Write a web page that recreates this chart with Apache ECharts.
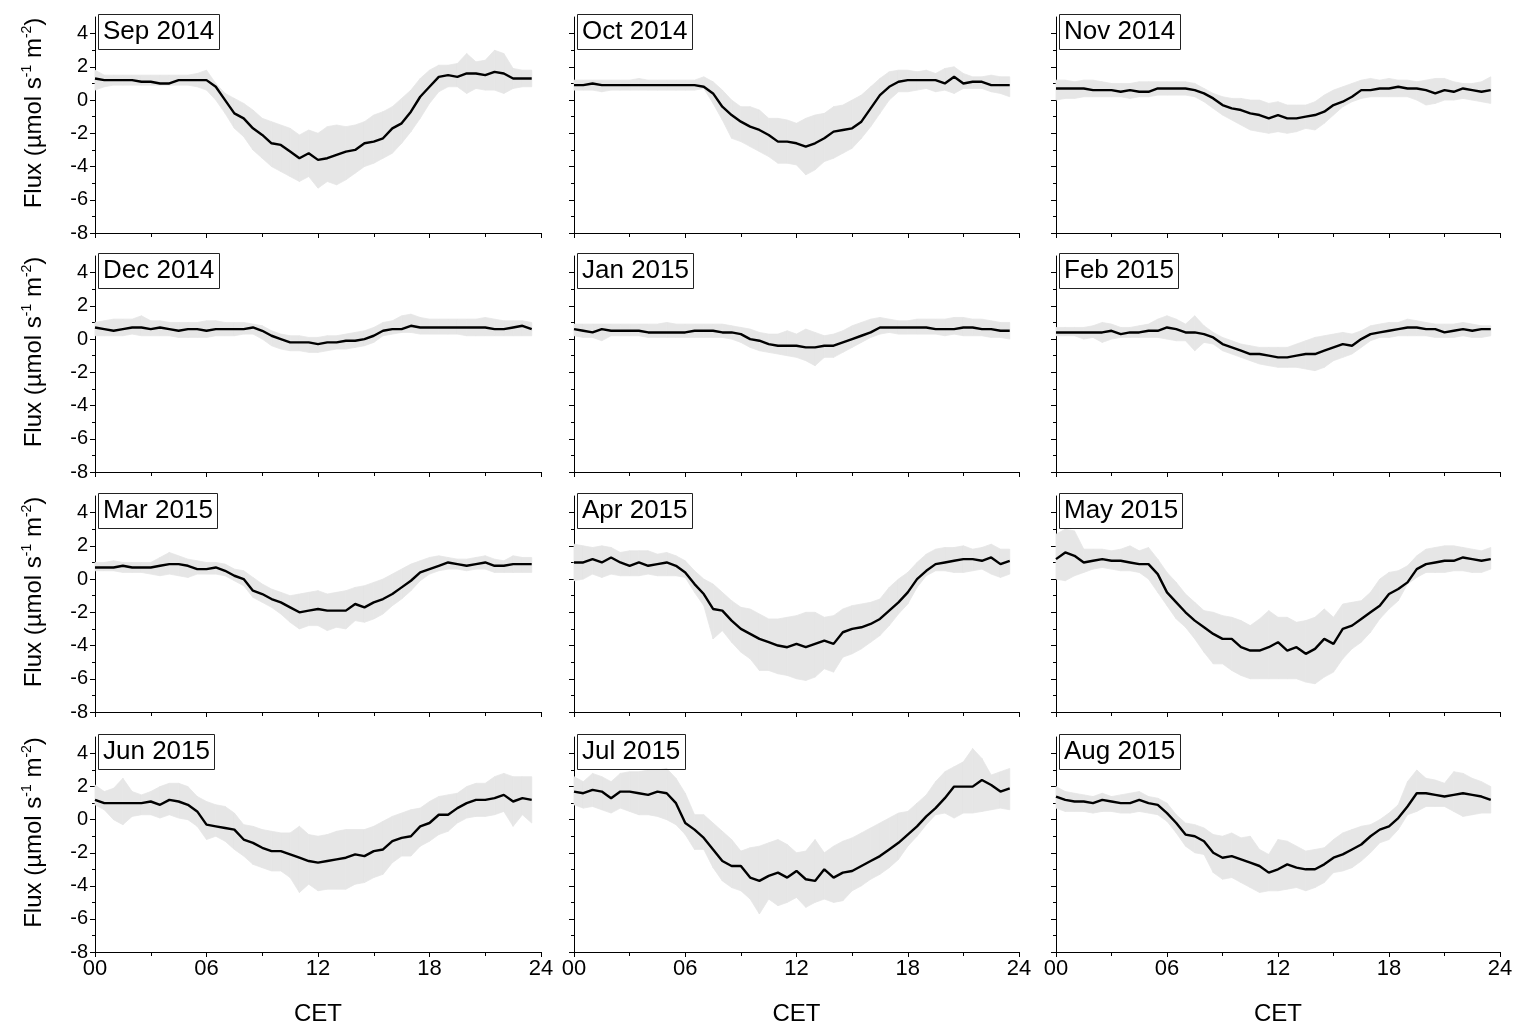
<!DOCTYPE html>
<html>
<head>
<meta charset="utf-8">
<title>Diurnal CO2 flux, Sep 2014 - Aug 2015</title>
<script src="https://cdn.jsdelivr.net/npm/echarts@6/dist/echarts.min.js"></script>
<style>
  html, body { margin: 0; padding: 0; background: #fff; }
  #chart { width: 1517px; height: 1027px; }
</style>
</head>
<body>
<div id="chart"></div>
<script>
// Half-hourly time of day (CET), hours
const HOURS = [0,0.5,1,1.5,2,2.5,3,3.5,4,4.5,5,5.5,6,6.5,7,7.5,8,8.5,9,9.5,10,10.5,11,11.5,
               12,12.5,13,13.5,14,14.5,15,15.5,16,16.5,17,17.5,18,18.5,19,19.5,20,20.5,21,21.5,22,22.5,23,23.5];

const MONTHS = ['Sep 2014','Oct 2014','Nov 2014','Dec 2014','Jan 2015','Feb 2015',
                'Mar 2015','Apr 2015','May 2015','Jun 2015','Jul 2015','Aug 2015'];

const Y_TICKS = [-8, -6, -4, -2, 0, 2, 4];
const Y_MINOR = [-7, -5, -3, -1, 1, 3];

// Mean flux and the lower/upper edges of the shaded spread (µmol s-1 m-2)
const sepMean = [1.3,1.2,1.2,1.2,1.2,1.1,1.1,1.0, 1.0,1.2,1.2,1.2,1.2,0.8,0.0,-0.8, -1.1,-1.7,-2.1,-2.6,-2.7,-3.1,-3.5,-3.2, -3.6,-3.5,-3.3,-3.1,-3.0,-2.6,-2.5,-2.3, -1.7,-1.4,-0.7,0.2,0.8,1.4,1.5,1.4, 1.6,1.6,1.5,1.7,1.6,1.3,1.3,1.3];
const sepLo   = [0.6,0.8,0.9,0.9,0.9,0.9,0.9,0.9, 0.9,0.9,0.9,0.8,0.6,0.0,-0.8,-1.7, -2.2,-3.0,-3.5,-4.0,-4.3,-4.6,-4.9,-4.6, -5.3,-4.9,-5.1,-4.8,-4.4,-4.0,-3.8,-3.5, -3.2,-2.6,-1.9,-1.1,-0.2,0.5,0.8,0.8, 0.4,0.7,0.6,0.6,0.4,0.7,0.8,0.8];
const sepHi   = [1.8,1.5,1.5,1.5,1.5,1.5,1.5,1.5, 1.5,1.5,1.5,1.6,1.8,1.0,0.4,0.1, -0.2,-0.6,-1.1,-1.3,-1.5,-1.7,-2.1,-1.8, -2.0,-1.6,-1.5,-1.6,-1.5,-1.3,-0.9,-0.7, -0.4,0.1,0.6,1.3,1.8,2.1,2.1,2.2, 2.8,2.3,2.4,3.0,2.8,1.9,1.8,1.8];

const octMean = [0.9,0.9,1.0,0.9,0.9,0.9,0.9,0.9, 0.9,0.9,0.9,0.9,0.9,0.9,0.8,0.4, -0.4,-0.9,-1.3,-1.6,-1.8,-2.1,-2.5,-2.5, -2.6,-2.8,-2.6,-2.3,-1.9,-1.8,-1.7,-1.3, -0.5,0.3,0.8,1.1,1.2,1.2,1.2,1.2, 1.0,1.4,1.0,1.1,1.1,0.9,0.9,0.9];
const octLo   = [0.6,0.6,0.6,0.5,0.6,0.6,0.6,0.6, 0.6,0.6,0.6,0.6,0.6,0.6,0.7,-0.2, -1.2,-2.3,-2.5,-2.8,-3.1,-3.4,-3.8,-3.8, -3.9,-4.5,-4.2,-3.7,-3.5,-3.2,-2.9,-2.3, -1.6,-0.8,0.0,0.5,0.5,0.6,0.7,0.5, 0.6,0.4,0.7,0.7,0.7,0.5,0.4,0.2];
const octHi   = [1.2,1.2,1.2,1.2,1.2,1.2,1.2,1.3, 1.2,1.2,1.2,1.2,1.2,1.2,1.4,1.1, 0.6,0.0,-0.4,-0.4,-0.6,-1.1,-1.1,-1.2, -1.4,-1.1,-0.9,-0.8,-0.4,-0.3,0.0,0.3, 0.8,1.3,1.7,1.8,1.8,1.7,1.8,1.6, 1.9,2.0,1.6,1.4,1.4,1.5,1.4,1.4];

const novMean = [0.7,0.7,0.7,0.7,0.6,0.6,0.6,0.5, 0.6,0.5,0.5,0.7,0.7,0.7,0.7,0.6, 0.4,0.1,-0.3,-0.5,-0.6,-0.8,-0.9,-1.1, -0.9,-1.1,-1.1,-1.0,-0.9,-0.7,-0.3,-0.1, 0.2,0.6,0.6,0.7,0.7,0.8,0.7,0.7, 0.6,0.4,0.6,0.5,0.7,0.6,0.5,0.6];
const novLo   = [0.0,0.1,0.1,0.2,0.2,0.2,0.2,0.2, 0.1,0.2,0.2,0.3,0.3,0.3,0.3,0.2, -0.1,-0.5,-0.9,-1.2,-1.5,-1.8,-1.9,-2.0, -1.9,-2.0,-1.9,-1.7,-1.8,-1.4,-0.9,-0.4, -0.1,0.1,0.2,0.2,0.2,0.2,0.2,0.0, -0.3,-0.2,0.0,0.0,0.1,0.0,-0.1,-0.2];
const novHi   = [1.2,1.2,1.1,1.2,1.2,1.1,1.0,1.0, 1.0,1.1,1.1,1.1,1.1,1.1,1.1,1.0, 0.7,0.4,0.2,0.1,0.1,0.0,0.0,-0.2, -0.1,-0.3,-0.3,-0.3,-0.1,0.3,0.6,0.8, 1.0,1.2,1.3,1.2,1.3,1.2,1.2,1.1, 1.2,1.3,1.3,1.1,1.0,1.0,1.1,1.4];

const decMean = [0.7,0.6,0.5,0.6,0.7,0.7,0.6,0.7, 0.6,0.5,0.6,0.6,0.5,0.6,0.6,0.6, 0.6,0.7,0.5,0.2,0.0,-0.2,-0.2,-0.2, -0.3,-0.2,-0.2,-0.1,-0.1,0.0,0.2,0.5, 0.6,0.6,0.8,0.7,0.7,0.7,0.7,0.7, 0.7,0.7,0.7,0.6,0.6,0.7,0.8,0.6];
const decLo   = [0.2,0.2,0.2,0.2,0.3,0.2,0.2,0.2, 0.2,0.1,0.1,0.1,0.1,0.2,0.2,0.2, 0.3,0.3,0.0,-0.4,-0.6,-0.7,-0.7,-0.8, -0.8,-0.7,-0.6,-0.6,-0.5,-0.4,-0.2,0.2, 0.3,0.4,0.4,0.3,0.3,0.3,0.3,0.3, 0.2,0.2,0.2,0.2,0.2,0.2,0.2,0.2];
const decHi   = [1.0,1.1,1.2,1.2,1.2,1.4,1.1,1.1, 1.0,1.0,1.0,1.0,1.1,1.1,1.0,1.0, 1.0,0.9,0.8,0.5,0.3,0.2,0.2,0.1, 0.1,0.2,0.2,0.3,0.4,0.5,0.7,1.0, 1.1,1.4,1.5,1.3,1.2,1.2,1.2,1.2, 1.2,1.2,1.3,1.2,1.1,1.1,1.1,1.0];

const janMean = [0.6,0.5,0.4,0.6,0.5,0.5,0.5,0.5, 0.4,0.4,0.4,0.4,0.4,0.5,0.5,0.5, 0.4,0.4,0.3,0.0,-0.1,-0.3,-0.4,-0.4, -0.4,-0.5,-0.5,-0.4,-0.4,-0.2,0.0,0.2, 0.4,0.7,0.7,0.7,0.7,0.7,0.7,0.6, 0.6,0.6,0.7,0.7,0.6,0.6,0.5,0.5];
const janLo   = [0.2,0.1,0.1,-0.1,0.2,0.2,0.2,0.2, 0.1,0.1,0.1,0.1,0.1,0.1,0.1,0.1, 0.1,0.0,-0.2,-0.5,-0.7,-0.8,-0.9,-1.0, -1.1,-1.3,-1.6,-1.1,-1.1,-0.8,-0.5,-0.2, 0.1,0.3,0.4,0.3,0.3,0.3,0.3,0.3, 0.2,0.3,0.2,0.2,0.2,0.1,0.1,0.0];
const janHi   = [0.9,0.9,0.9,0.9,0.9,0.9,0.9,0.9, 0.9,0.9,1.0,0.9,0.9,0.9,0.9,0.9, 0.9,0.8,0.7,0.6,0.4,0.3,0.3,0.5, 0.3,0.6,0.4,0.2,0.3,0.5,0.8,1.0, 1.2,1.3,1.2,1.1,1.1,1.2,1.2,1.2, 1.2,1.3,1.3,1.2,1.2,1.1,1.0,1.0];

const febMean = [0.4,0.4,0.4,0.4,0.4,0.4,0.5,0.3, 0.4,0.4,0.5,0.5,0.7,0.6,0.4,0.4, 0.3,0.1,-0.3,-0.5,-0.7,-0.9,-0.9,-1.0, -1.1,-1.1,-1.0,-0.9,-0.9,-0.7,-0.5,-0.3, -0.4,0.0,0.3,0.4,0.5,0.6,0.7,0.7, 0.6,0.6,0.4,0.5,0.6,0.5,0.6,0.6];
const febLo   = [0.2,0.2,0.2,0.0,0.1,-0.2,0.0,0.1, 0.1,0.1,0.1,0.1,0.0,-0.1,-0.1,-0.7, -0.2,-0.3,-0.7,-0.9,-1.1,-1.3,-1.5,-1.6, -1.7,-1.7,-1.7,-1.8,-1.9,-1.7,-1.3,-1.1, -0.9,-0.5,-0.1,0.1,0.1,0.2,0.2,0.2, 0.2,0.1,0.1,0.1,0.2,0.1,0.1,0.2];
const febHi   = [0.7,0.7,0.7,0.7,0.8,1.0,0.9,0.7, 0.7,0.8,0.9,1.2,1.4,1.2,0.9,1.4, 0.8,0.4,0.1,-0.1,-0.3,-0.4,-0.5,-0.5, -0.5,-0.5,-0.3,-0.1,0.1,0.2,0.3,0.4, 0.3,0.5,0.8,0.9,1.0,1.0,1.2,1.1, 1.0,0.9,0.9,0.9,1.0,0.9,0.8,0.8];

const marMean = [0.7,0.7,0.7,0.8,0.7,0.7,0.7,0.8, 0.9,0.9,0.8,0.6,0.6,0.7,0.5,0.2, 0.0,-0.7,-0.9,-1.2,-1.4,-1.7,-2.0,-1.9, -1.8,-1.9,-1.9,-1.9,-1.5,-1.7,-1.4,-1.2, -0.9,-0.5,-0.1,0.4,0.6,0.8,1.0,0.9, 0.8,0.9,1.0,0.8,0.8,0.9,0.9,0.9];
const marLo   = [0.5,0.5,0.5,0.4,0.4,0.4,0.3,0.2, 0.3,0.2,0.1,0.3,0.3,0.3,0.2,-0.1, -0.4,-1.1,-1.4,-1.7,-2.1,-2.6,-3.0,-2.8, -2.8,-3.1,-2.9,-3.0,-2.5,-2.6,-2.4,-2.1, -1.6,-1.2,-0.7,-0.1,0.3,0.5,0.6,0.6, 0.5,0.6,0.6,0.4,0.4,0.4,0.4,0.4];
const marHi   = [1.0,1.0,1.1,1.0,1.0,1.0,1.0,1.3, 1.6,1.4,1.2,1.1,1.0,1.0,0.9,0.6, 0.5,0.1,-0.3,-0.6,-0.8,-1.0,-0.9,-0.8, -0.7,-0.9,-0.8,-0.7,-0.5,-0.4,-0.2,0.0, 0.3,0.6,0.9,1.1,1.3,1.4,1.3,1.2, 1.2,1.3,1.4,1.2,1.1,1.4,1.3,1.3];

const aprMean = [1.0,1.0,1.2,1.0,1.3,1.0,0.8,1.0, 0.8,0.9,1.0,0.8,0.4,-0.3,-0.9,-1.8, -1.9,-2.5,-3.0,-3.3,-3.6,-3.8,-4.0,-4.1, -3.9,-4.1,-3.9,-3.7,-3.9,-3.2,-3.0,-2.9, -2.7,-2.4,-1.9,-1.4,-0.8,0.0,0.5,0.9, 1.0,1.1,1.2,1.2,1.1,1.3,0.9,1.1];
const aprLo   = [-0.1,0.0,0.3,0.1,0.3,0.2,0.2,0.2, 0.3,0.2,0.2,0.2,0.1,-0.8,-1.6,-3.6, -3.1,-3.8,-4.4,-4.8,-5.5,-5.5,-5.7,-5.8, -6.0,-6.1,-5.9,-5.4,-5.6,-4.7,-4.5,-4.2, -3.8,-3.4,-2.8,-2.1,-1.5,-0.5,0.2,0.5, 0.5,0.4,0.4,0.5,0.6,0.3,0.1,0.3];
const aprHi   = [2.1,2.0,1.9,2.0,1.9,1.6,1.7,1.7, 1.7,1.5,1.6,1.4,1.1,0.5,0.0,-0.3, -0.8,-1.3,-1.7,-1.8,-2.1,-2.4,-2.4,-2.3, -2.2,-2.0,-2.0,-2.3,-2.2,-1.8,-1.6,-1.5, -1.4,-1.2,-0.5,0.0,0.4,1.0,1.5,1.8, 1.9,1.9,2.0,1.8,1.9,2.1,1.8,1.8];

const mayMean = [1.2,1.6,1.4,1.0,1.1,1.2,1.1,1.1, 1.0,0.9,0.9,0.3,-0.8,-1.4,-2.0,-2.5, -2.9,-3.3,-3.6,-3.6,-4.1,-4.3,-4.3,-4.1, -3.8,-4.3,-4.1,-4.5,-4.2,-3.6,-3.9,-3.0, -2.8,-2.4,-2.0,-1.6,-0.9,-0.6,-0.2,0.6, 0.9,1.0,1.1,1.1,1.3,1.2,1.1,1.2];
const mayLo   = [0.0,-0.1,0.2,0.4,0.6,0.7,0.6,0.5, 0.5,0.4,0.0,-0.8,-1.6,-2.4,-2.9,-3.6, -4.4,-5.1,-5.1,-5.5,-5.8,-6.0,-6.0,-6.0, -6.0,-6.0,-6.0,-6.2,-6.3,-5.9,-5.6,-4.8, -4.2,-3.8,-3.2,-2.4,-1.8,-1.3,-0.3,0.1, 0.4,0.4,0.4,0.5,0.5,0.4,0.4,0.6];
const mayHi   = [2.7,3.0,2.9,1.8,1.8,1.8,1.7,1.8, 2.0,1.7,1.9,1.2,0.4,-0.2,-0.9,-1.4, -1.9,-2.0,-2.2,-2.3,-2.5,-2.8,-2.4,-1.9, -2.3,-2.3,-2.6,-2.5,-2.3,-1.8,-2.3,-1.5, -1.4,-1.3,-0.8,0.0,0.4,0.5,0.8,1.4, 1.8,1.9,2.0,2.0,1.9,1.8,1.7,1.9];

const junMean = [1.2,1.0,1.0,1.0,1.0,1.0,1.1,0.9, 1.2,1.1,0.9,0.5,-0.3,-0.4,-0.5,-0.6, -1.2,-1.4,-1.7,-1.9,-1.9,-2.1,-2.3,-2.5, -2.6,-2.5,-2.4,-2.3,-2.1,-2.2,-1.9,-1.8, -1.3,-1.1,-1.0,-0.4,-0.2,0.3,0.3,0.7, 1.0,1.2,1.2,1.3,1.5,1.1,1.3,1.2];
const junLo   = [0.9,0.6,0.0,-0.3,0.2,0.3,0.3,0.1, 0.3,0.1,0.0,-0.4,-1.2,-1.0,-1.3,-1.8, -2.2,-2.7,-2.9,-3.1,-3.1,-3.5,-4.4,-3.9, -4.3,-4.2,-4.2,-4.2,-3.9,-3.8,-3.5,-3.3, -2.6,-2.2,-2.2,-1.6,-1.3,-0.9,-0.7,-0.2, 0.1,0.2,0.2,0.3,0.5,-0.4,0.3,-0.2];
const junHi   = [2.1,1.7,1.9,2.5,1.7,1.5,1.7,2.0, 2.2,2.2,2.0,1.4,1.1,0.9,0.8,0.4, -0.3,-0.4,-0.6,-0.7,-0.8,-0.8,-0.4,-0.9, -1.0,-0.9,-0.7,-0.6,-0.6,-0.6,-0.4,-0.1, 0.2,0.4,0.6,0.7,1.1,1.4,1.5,1.6, 2.0,2.2,2.2,2.6,2.8,2.6,2.6,2.6];

const julMean = [1.7,1.6,1.8,1.7,1.3,1.7,1.7,1.6, 1.5,1.7,1.6,1.0,-0.2,-0.6,-1.1,-1.8, -2.5,-2.8,-2.8,-3.5,-3.7,-3.4,-3.2,-3.5, -3.1,-3.6,-3.7,-3.0,-3.5,-3.2,-3.1,-2.8, -2.5,-2.2,-1.8,-1.4,-0.9,-0.4,0.2,0.7, 1.3,2.0,2.0,2.0,2.4,2.1,1.7,1.9];
const julLo   = [0.9,0.7,0.8,0.6,0.4,0.7,0.5,0.3, 0.3,0.2,0.0,-0.3,-0.9,-1.8,-1.8,-2.9, -3.7,-4.1,-4.3,-4.8,-5.7,-4.8,-5.2,-5.0, -4.7,-5.3,-5.0,-4.8,-5.0,-4.9,-4.3,-4.0, -3.6,-3.3,-2.9,-2.4,-1.6,-1.0,-0.3,0.3, 0.4,0.1,0.4,0.4,0.5,0.6,0.7,0.6];
const julHi   = [2.6,2.3,2.8,2.6,2.3,2.8,2.9,2.9, 3.0,3.0,3.1,2.5,1.6,0.3,0.3,-0.2, -0.7,-1.2,-1.9,-1.7,-1.6,-1.4,-1.2,-1.5, -2.0,-1.9,-1.2,-2.0,-1.6,-1.3,-1.1,-0.8, -0.5,-0.2,0.1,0.4,0.5,1.0,1.5,2.3, 2.9,3.2,3.5,4.3,3.7,2.7,2.9,3.1];

const augMean = [1.4,1.2,1.1,1.1,1.0,1.2,1.1,1.0, 1.0,1.2,1.0,0.9,0.4,-0.2,-0.9,-1.0, -1.3,-2.0,-2.3,-2.2,-2.4,-2.6,-2.8,-3.2, -3.0,-2.7,-2.9,-3.0,-3.0,-2.7,-2.3,-2.1, -1.8,-1.5,-1.0,-0.6,-0.4,0.1,0.8,1.6, 1.6,1.5,1.4,1.5,1.6,1.5,1.4,1.2];
const augLo   = [0.7,0.5,0.5,0.5,0.4,0.5,0.5,0.4, 0.4,0.5,0.4,0.3,-0.1,-0.8,-1.6,-2.0, -2.1,-3.2,-3.6,-3.5,-3.8,-4.1,-4.4,-4.3, -4.3,-4.2,-4.1,-4.3,-4.1,-3.8,-3.2,-3.1, -2.9,-2.5,-2.0,-1.4,-1.2,-0.6,0.3,0.5, 0.8,0.8,0.8,0.5,0.2,0.3,0.4,0.4];
const augHi   = [2.0,1.7,1.6,1.5,1.4,1.6,1.4,1.5, 1.6,1.7,1.4,1.3,1.0,0.3,-0.2,-0.3, -0.5,-0.9,-1.0,-0.8,-1.1,-1.0,-1.8,-2.1, -1.2,-1.3,-1.6,-1.9,-1.8,-1.7,-1.2,-0.8, -0.6,-0.4,-0.3,0.0,0.4,0.9,2.3,3.0, 2.5,2.4,2.2,2.9,2.8,2.5,2.3,2.0];

const MEANS = [sepMean, octMean, novMean, decMean, janMean, febMean, marMean, aprMean, mayMean, junMean, julMean, augMean];
const LOWS  = [sepLo, octLo, novLo, decLo, janLo, febLo, marLo, aprLo, mayLo, junLo, julLo, augLo];
const HIGHS = [sepHi, octHi, novHi, decHi, janHi, febHi, marHi, aprHi, mayHi, junHi, julHi, augHi];

// Panel layout (pixels)
const COL_LEFT  = [95, 574, 1056];
const COL_WIDTH = [446, 445, 444];
const ROW_TOP   = [17, 256, 496, 737];
const ROW_H     = 216;

const FONT = '"Liberation Sans", Arial, Helvetica, sans-serif';
const BAND = '#e6e6e6';
const INK = '#000';

const pad2 = v => (v < 10 ? '0' : '') + v;

// Shaded spread: one quadrilateral per half-hour step between lower and upper edge
function bandRenderer(lo, hi) {
  return function (params, api) {
    const k = params.dataIndex;
    if (k >= HOURS.length - 1) return null;
    const pts = [
      api.coord([HOURS[k], hi[k]]),
      api.coord([HOURS[k + 1], hi[k + 1]]),
      api.coord([HOURS[k + 1], lo[k + 1]]),
      api.coord([HOURS[k], lo[k]])
    ];
    return {
      type: 'polygon',
      shape: { points: pts },
      style: { fill: BAND, stroke: BAND, lineWidth: 0.8 }
    };
  };
}

const grid = [], xAxis = [], yAxis = [], series = [], title = [];

MONTHS.forEach((name, i) => {
  const r = Math.floor(i / 3), c = i % 3;
  const firstCol = c === 0, lastRow = r === 3;

  grid.push({ left: COL_LEFT[c], top: ROW_TOP[r], width: COL_WIDTH[c], height: ROW_H });

  xAxis.push({
    type: 'value', gridIndex: i, min: 0, max: 24, interval: 6,
    axisLine: { show: true, onZero: false, lineStyle: { color: INK, width: 1 } },
    axisTick: { show: true, length: 5, lineStyle: { color: INK, width: 1 } },
    minorTick: { show: true, splitNumber: 2, length: 4, lineStyle: { color: INK, width: 1 } },
    splitLine: { show: false },
    axisLabel: {
      show: lastRow, margin: 6, color: INK, fontSize: 22, fontFamily: FONT,
      formatter: v => pad2(v)
    },
    name: lastRow ? 'CET' : '',
    nameLocation: 'middle', nameGap: 50,
    nameTextStyle: { color: INK, fontSize: 24, fontFamily: FONT }
  });

  // main y axis: line, major ticks, labels
  yAxis.push({
    type: 'value', gridIndex: i, min: -8, max: 5,
    axisLine: { show: true, onZero: false, lineStyle: { color: INK, width: 1 } },
    axisTick: { show: true, length: 5, customValues: Y_TICKS, lineStyle: { color: INK, width: 1 } },
    splitLine: { show: false },
    axisLabel: {
      show: firstCol, customValues: Y_TICKS, margin: 7, color: INK,
      fontSize: 20, fontFamily: FONT
    },
    name: firstCol ? '{n|Flux (µmol s}{s|-1}{n| m}{s|-2}{n|)}' : '',
    nameLocation: 'middle', nameRotate: 90, nameGap: 47,
    nameTextStyle: {
      color: INK, fontFamily: FONT, fontSize: 24,
      padding: [0, 0, 0, 24],
      rich: {
        n: { fontSize: 24, fontFamily: FONT, color: INK, lineHeight: 28 },
        s: { fontSize: 14, fontFamily: FONT, color: INK, lineHeight: 28, verticalAlign: 'top' }
      }
    }
  });
  // companion y axis carrying only the minor ticks
  yAxis.push({
    type: 'value', gridIndex: i, min: -8, max: 5, position: 'left',
    axisLine: { show: false },
    axisTick: { show: true, length: 3, customValues: Y_MINOR, lineStyle: { color: INK, width: 1 } },
    axisLabel: { show: false },
    splitLine: { show: false }
  });

  const yIdx = i * 2;
  const lo = LOWS[i], hi = HIGHS[i];
  series.push({
    type: 'custom', xAxisIndex: i, yAxisIndex: yIdx,
    data: HOURS.map((h, k) => [h, lo[k], hi[k]]),
    encode: { x: 0, y: [1, 2] },
    renderItem: bandRenderer(lo, hi),
    silent: true, z: 1
  });
  series.push({
    type: 'line', xAxisIndex: i, yAxisIndex: yIdx,
    data: HOURS.map((h, k) => [h, MEANS[i][k]]),
    symbol: 'none', silent: true, lineStyle: { color: INK, width: 2.4 }, z: 3
  });

  title.push({
    text: name,
    left: COL_LEFT[c] + 3, top: ROW_TOP[r] - 3,
    padding: [3, 5, 3, 5],
    borderWidth: 1, borderColor: '#222',
    textStyle: { color: INK, fontSize: 26, fontWeight: 'normal', fontFamily: FONT, lineHeight: 30 }
  });
});

const chart = echarts.init(document.getElementById('chart'), null, { renderer: 'canvas' });
chart.setOption({
  animation: false,
  backgroundColor: '#fff',
  title, grid, xAxis, yAxis, series
});
</script>
</body>
</html>
